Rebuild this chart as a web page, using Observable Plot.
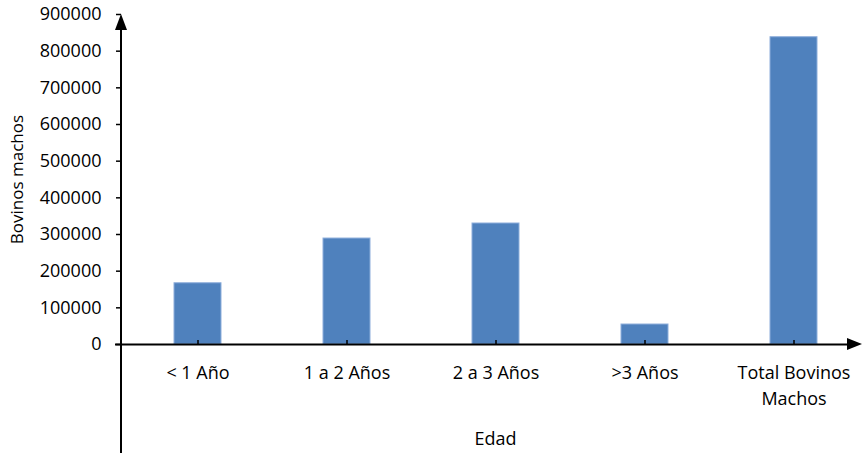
<!DOCTYPE html>
<html><head><meta charset="utf-8">
<script src="https://cdn.jsdelivr.net/npm/d3@7"></script>
<script src="https://cdn.jsdelivr.net/npm/@observablehq/plot@0.6"></script>
<style>body{margin:0;background:#fff}</style>
</head><body><div id="chart"></div>
<script>
const categories = ["< 1 Año", "1 a 2 Años", "2 a 3 Años", ">3 Años", "Total Bovinos Machos"];
const values = [167000, 289000, 330000, 54500, 838000];
const tickLabels = ["< 1 Año", "1 a 2 Años", "2 a 3 Años", ">3 Años", "Total Bovinos\nMachos"];
const yTicks = [0, 100000, 200000, 300000, 400000, 500000, 600000, 700000, 800000, 900000];
const yLabel = "Bovinos machos";
const xLabel = "Edad";

const data = categories.map((c, i) => ({cat: c, value: values[i]}));
const W = 863, H = 453;

const plot = Plot.plot({
  width: W, height: H,
  marginLeft: 121, marginRight: 8, marginTop: 14, marginBottom: 109,
  style: {fontFamily: "'Open Sans', sans-serif", fontSize: "18px", color: "#000", background: "#fff", overflow: "visible"},
  x: {domain: categories, range: [121, 869], paddingInner: 0.687, paddingOuter: 0.3435, axis: null},
  y: {domain: [0, 900000], axis: null},
  marks: [
    Plot.barY(data, {x: "cat", y: "value", fill: "#4F81BD", stroke: "#8DAEDB", strokeWidth: 1}),
    Plot.ruleY([0], {insetLeft: -6, strokeWidth: 2, stroke: "#000"}),
    Plot.axisY({ticks: yTicks, tickSize: 5, tickPadding: 15, tickFormat: d3.format("d"), label: null, strokeWidth: 1.5}),
    Plot.axisX({tickSize: 4, dy: -4, fill: "none", label: null, strokeWidth: 1.5}),
    Plot.axisX({tickSize: 0, tickPadding: 16, lineHeight: 1.44, tickFormat: d => tickLabels[categories.indexOf(d)], label: null}),
    Plot.text([yLabel], {frameAnchor: "left", textAnchor: "middle", lineAnchor: "middle", rotate: -90, dx: -104, fontSize: 17}),
    Plot.text([xLabel], {frameAnchor: "bottom", textAnchor: "middle", lineAnchor: "middle", dy: 95, dx: 7})
  ]
});
document.getElementById("chart").append(plot);

// axis lines and filled arrowheads, positioned from the plot's scales
const svg = d3.select(plot);
const xs = plot.scale("x"), ys = plot.scale("y");
const x0 = xs.range[0];
const yTop = ys.apply(ys.domain[1]);
const yZero = ys.apply(0);
svg.append("line").attr("x1", x0).attr("x2", x0).attr("y1", yTop + 12).attr("y2", H)
  .attr("stroke", "#000").attr("stroke-width", 2);
svg.append("polygon").attr("points", `${x0},${yTop} ${x0 - 6},${yTop + 16} ${x0 + 6},${yTop + 16}`).attr("fill", "#000");
const xEnd = W - 1;
svg.append("polygon").attr("points", `${xEnd},${yZero} ${xEnd - 15},${yZero - 6} ${xEnd - 15},${yZero + 6}`).attr("fill", "#000");
</script>
</body></html>
